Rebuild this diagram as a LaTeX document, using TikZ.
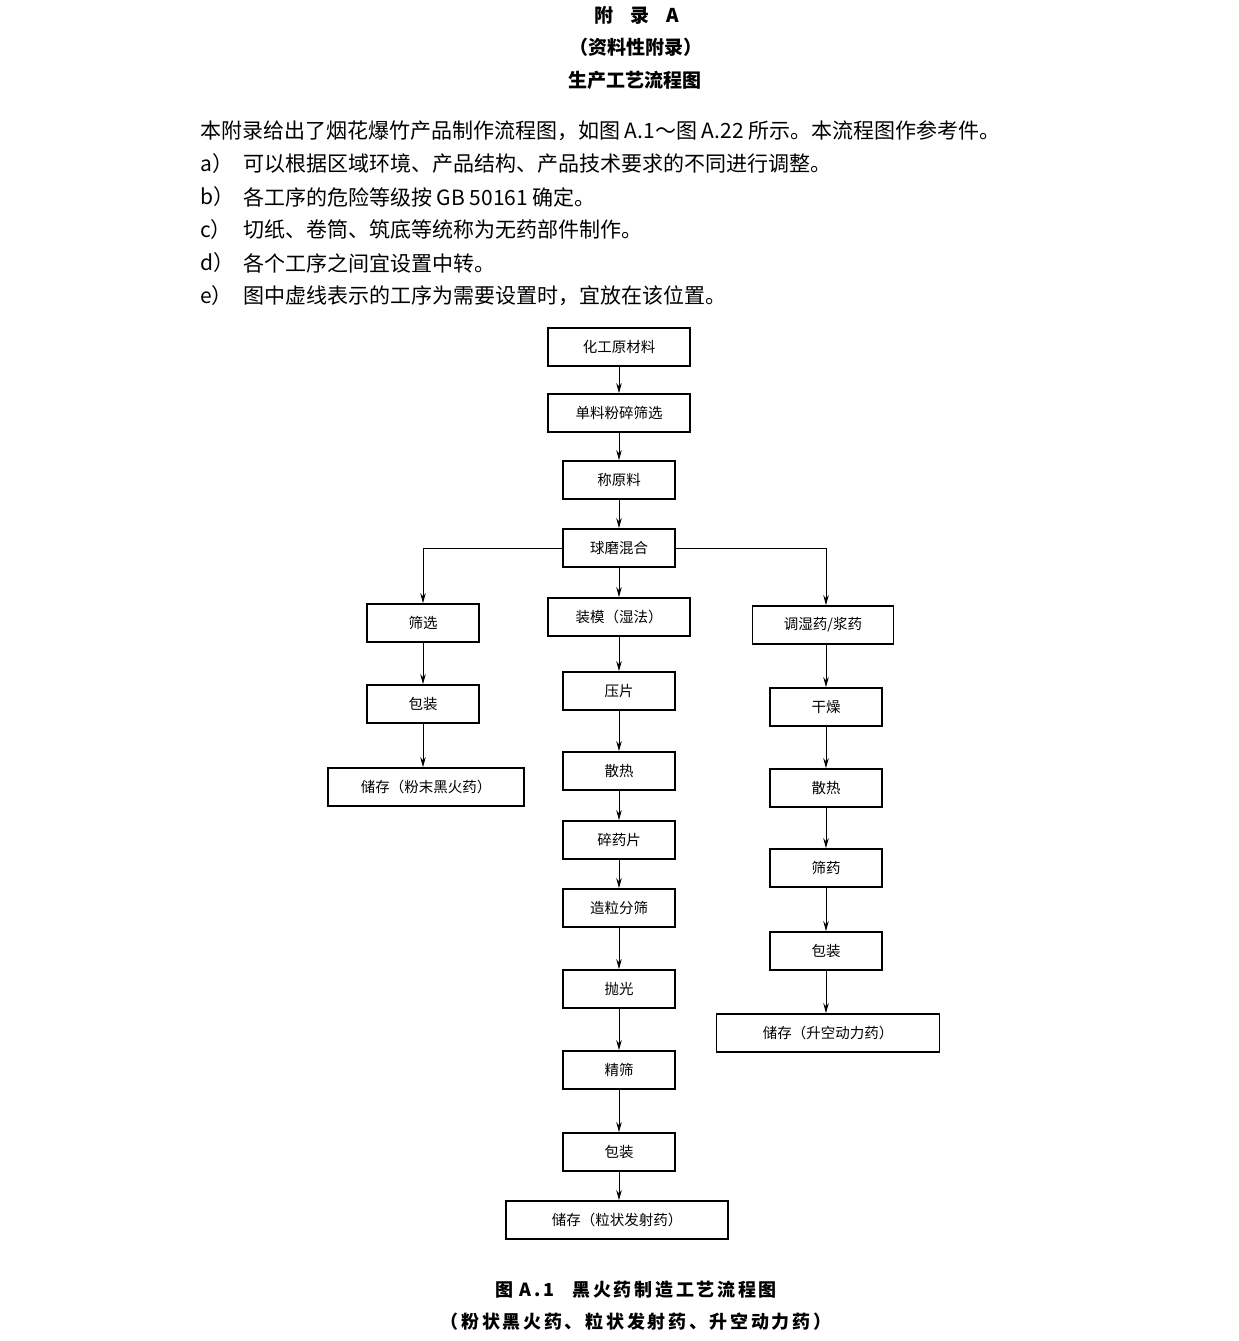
\documentclass[tikz,border=0pt]{standalone}
\usepackage{fontspec}
\setmainfont{Liberation Serif}
\newfontfamily\cjkfont{Noto Sans CJK SC}
\newfontfamily\cjkcapfont{Noto Sans CJK SC}[LetterSpace=15]
\usetikzlibrary{arrows.meta,positioning}

\tikzset{
  procbox/.style={draw, line width=1.8pt, minimum height=38pt, inner sep=0pt,
    font=\cjkfont\fontsize{14.5}{16}\selectfont},
  flowarrow/.style={-{Stealth[length=10pt,width=5.5pt]}, line width=0.9pt},
  headtext/.style={inner sep=0pt, font=\cjkfont\bfseries\fontsize{19}{22}\selectfont},
  bodytext/.style={inner sep=0pt, anchor=west, font=\cjkfont\fontsize{21}{24}\selectfont},
  captext/.style={inner sep=0pt, font=\cjkcapfont\bfseries\fontsize{18}{22}\selectfont}
}

\begin{document}
\begin{tikzpicture}[x=1pt, y=-1pt]
    \useasboundingbox (0,0) rectangle (1239,1341);
    % headings
    \node[headtext] (apxtitle) at (637,15) {附\hspace{0.9em}录\hspace{0.9em}A};
    \node[headtext] (apxkind) at (636,47) {（资料性附录）};
    \node[headtext] (apxname) at (635,80) {生产工艺流程图};
    % introduction
    \node[bodytext] (intro) at (200,131) {本附录给出了烟花爆竹产品制作流程图，如图\ A.1～图\ A.22\ 所示。本流程图作参考件。};
    \node[bodytext] (lbla) at (200,164) {a）};
    \node[bodytext] (itema) at (243,164) {可以根据区域环境、产品结构、产品技术要求的不同进行调整。};
    \node[bodytext] (lblb) at (200,197) {b）};
    \node[bodytext] (itemb) at (243,197) {各工序的危险等级按 GB 50161 确定。};
    \node[bodytext] (lblc) at (200,230) {c）};
    \node[bodytext] (itemc) at (243,230) {切纸、卷筒、筑底等统称为无药部件制作。};
    \node[bodytext] (lbld) at (200,263) {d）};
    \node[bodytext] (itemd) at (243,263) {各个工序之间宜设置中转。};
    \node[bodytext] (lble) at (200,296) {e）};
    \node[bodytext] (iteme) at (243,296) {图中虚线表示的工序为需要设置时，宜放在该位置。};
    % main column
    \node[procbox, minimum width=142pt] (raw) at (619,347) {化工原材料};
    \node[procbox, minimum width=142pt] (crush) at (619,413) {单料粉碎筛选};
    \node[procbox, minimum width=112pt] (weigh) at (619,480) {称原料};
    \node[procbox, minimum width=112pt] (mix) at (619,548) {球磨混合};
    \node[procbox, minimum width=142pt] (mould) at (619,617) {装模（湿法）};
    \node[procbox, minimum width=112pt] (press) at (619,691) {压片};
    \node[procbox, minimum width=112pt] (cool) at (619,771) {散热};
    \node[procbox, minimum width=112pt] (breakup) at (619,840) {碎药片};
    \node[procbox, minimum width=112pt] (grain) at (619,908) {造粒分筛};
    \node[procbox, minimum width=112pt] (polish) at (619,989) {抛光};
    \node[procbox, minimum width=112pt] (fine) at (619,1070) {精筛};
    \node[procbox, minimum width=112pt] (pack) at (619,1152) {包装};
    \node[procbox, minimum width=222pt] (storeg) at (617,1220) {储存（粒状发射药）};
    % left column
    \node[procbox, minimum width=112pt] (lsieve) at (423,623) {筛选};
    \node[procbox, minimum width=112pt] (lpack) at (423,704) {包装};
    \node[procbox, minimum width=196pt] (storep) at (426,787) {储存（粉末黑火药）};
    % right column
    \node[procbox, minimum width=141pt] (wetmix) at (823,625) {调湿药/浆药};
    \node[procbox, minimum width=112pt] (rdry) at (826,707) {干燥};
    \node[procbox, minimum width=112pt] (rcool) at (826,788) {散热};
    \node[procbox, minimum width=112pt] (rsieve) at (826,868) {筛药};
    \node[procbox, minimum width=112pt] (rpack) at (826,951) {包装};
    \node[procbox, minimum width=223pt] (storel) at (828,1033) {储存（升空动力药）};
    % connectors
    \draw[flowarrow] (raw) -- (crush);
    \draw[flowarrow] (crush) -- (weigh);
    \draw[flowarrow] (weigh) -- (mix);
    \draw[flowarrow] (mix) -- (mould);
    \draw[flowarrow] (mould) -- (press);
    \draw[flowarrow] (press) -- (cool);
    \draw[flowarrow] (cool) -- (breakup);
    \draw[flowarrow] (breakup) -- (grain);
    \draw[flowarrow] (grain) -- (polish);
    \draw[flowarrow] (polish) -- (fine);
    \draw[flowarrow] (fine) -- (pack);
    \draw[flowarrow] (pack) -- (pack |- storeg.north);
    \draw[flowarrow] (mix.west) -| (lsieve.north);
    \draw[flowarrow] (lsieve) -- (lpack);
    \draw[flowarrow] (lpack) -- (lpack |- storep.north);
    \draw[flowarrow] (mix.east) -| (rdry.north |- wetmix.north);
    \draw[flowarrow] (rdry |- wetmix.south) -- (rdry);
    \draw[flowarrow] (rdry) -- (rcool);
    \draw[flowarrow] (rcool) -- (rsieve);
    \draw[flowarrow] (rsieve) -- (rpack);
    \draw[flowarrow] (rpack) -- (rpack |- storel.north);
    % caption
    \node[captext] (figno) at (636,1290) {图 A.1\hspace{1em}黑火药制造工艺流程图};
    \node[captext] (figsub) at (636,1322) {（粉状黑火药、粒状发射药、升空动力药）};
\end{tikzpicture}
\end{document}
